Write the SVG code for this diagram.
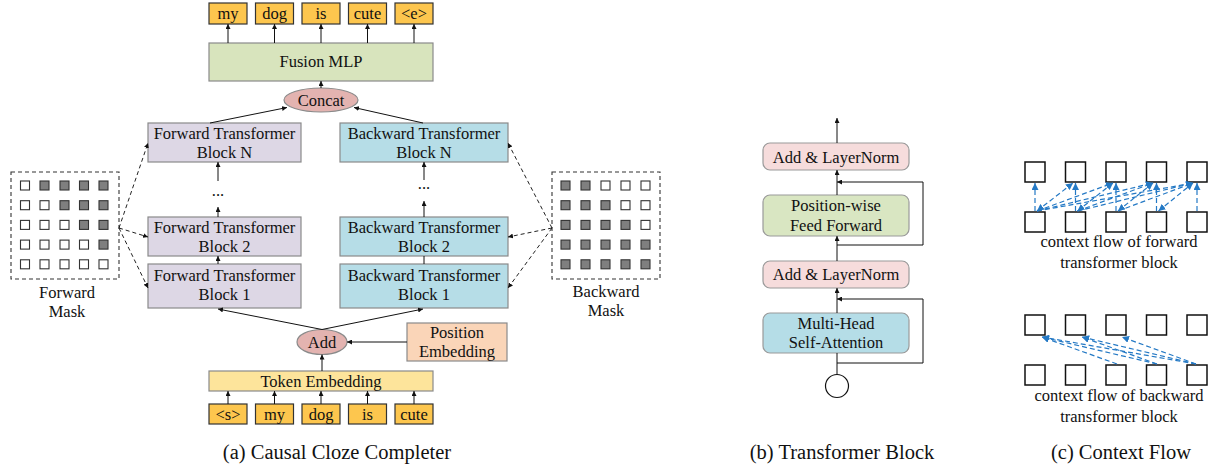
<svg xmlns="http://www.w3.org/2000/svg" width="1218" height="470" viewBox="0 0 1218 470">
<defs>
<style>
.t{font-family:"Liberation Serif","Times New Roman",serif;font-size:16.5px;fill:#111;text-anchor:middle}
.cap{font-family:"Liberation Serif","Times New Roman",serif;font-size:20.5px;fill:#111;text-anchor:middle}
.tok{fill:#fdc64e;stroke:#333;stroke-width:1.2}
.box{stroke:#8a8a8a;stroke-width:1.2}
.fus{fill:#d8e4bd}
.ell{fill:#e3b3b0}
.fwd{fill:#ddd7e5}
.bwd{fill:#b6dde7}
.pos{fill:#fad5b8}
.temb{fill:#fde49b}
.ln{stroke:#111;stroke-width:1;fill:none}
.dl{stroke:#222;stroke-width:1;fill:none;stroke-dasharray:4,3}
.mbox{fill:none;stroke:#333;stroke-width:1.1;stroke-dasharray:4,3}
.w{fill:#fff;stroke:#333;stroke-width:1.1}
.g{fill:#7f7f7f;stroke:#333;stroke-width:1.1}
.rb{stroke:#9a9a9a;stroke-width:1.2}
.ln1{fill:#f6dcdc}
.ff{fill:#d9e6c2}
.mha{fill:#b5dde7}
.sq{fill:#fff;stroke:#111;stroke-width:1.5}
.bl{stroke:#2479c5;stroke-width:1.2;fill:none;stroke-dasharray:5,3}
</style>
<marker id="a" viewBox="0 0 6 6" refX="6" refY="3" markerWidth="5" markerHeight="5" orient="auto" markerUnits="userSpaceOnUse"><path d="M0,0 L6,3 L0,6 z" fill="#111"/></marker>
<marker id="ab" viewBox="0 0 8 8" refX="8" refY="4" markerWidth="7" markerHeight="7" orient="auto" markerUnits="userSpaceOnUse"><path d="M0,0 L8,4 L0,8 z" fill="#2479c5"/></marker>
<marker id="abs" viewBox="0 0 8 8" refX="0" refY="4" markerWidth="7" markerHeight="7" orient="auto" markerUnits="userSpaceOnUse"><path d="M8,0 L0,4 L8,8 z" fill="#2479c5"/></marker>
</defs>
<rect width="1218" height="470" fill="#fff"/>

<!-- (a) output tokens -->
<g id="out-tokens">
<rect class="tok" x="209" y="3" width="38" height="21"/><text class="t" x="228" y="19">my</text>
<rect class="tok" x="255.5" y="3" width="38" height="21"/><text class="t" x="274.5" y="19">dog</text>
<rect class="tok" x="302" y="3" width="38" height="21"/><text class="t" x="321" y="19">is</text>
<rect class="tok" x="348.5" y="3" width="38" height="21"/><text class="t" x="367.5" y="19">cute</text>
<rect class="tok" x="395" y="3" width="38" height="21"/><text class="t" x="414" y="19">&lt;e&gt;</text>
</g>
<g id="fusion"><rect class="box fus" x="209" y="43" width="224" height="38"/><text class="t" x="321" y="67">Fusion MLP</text></g>
<g id="concat"><ellipse class="box ell" cx="321" cy="100" rx="37" ry="12"/><text class="t" x="321" y="106">Concat</text></g>

<g id="fwdN"><rect class="box fwd" x="148" y="123" width="153" height="39"/><text class="t" x="224.5" y="139">Forward Transformer</text><text class="t" x="224.5" y="158">Block N</text></g>
<g id="fwd2"><rect class="box fwd" x="148" y="217" width="153" height="39"/><text class="t" x="224.5" y="233">Forward Transformer</text><text class="t" x="224.5" y="252">Block 2</text></g>
<g id="fwd1"><rect class="box fwd" x="148" y="264" width="153" height="44"/><text class="t" x="224.5" y="281">Forward Transformer</text><text class="t" x="224.5" y="300">Block 1</text></g>
<g id="bwdN"><rect class="box bwd" x="340" y="123" width="168" height="39"/><text class="t" x="424" y="139">Backward Transformer</text><text class="t" x="424" y="158">Block N</text></g>
<g id="bwd2"><rect class="box bwd" x="340" y="217" width="168" height="39"/><text class="t" x="424" y="233">Backward Transformer</text><text class="t" x="424" y="252">Block 2</text></g>
<g id="bwd1"><rect class="box bwd" x="340" y="264" width="168" height="44"/><text class="t" x="424" y="281">Backward Transformer</text><text class="t" x="424" y="300">Block 1</text></g>
<g id="dots"><text class="t" x="218" y="196">...</text><text class="t" x="424" y="189">...</text></g>

<g id="add"><ellipse class="box ell" cx="322" cy="342" rx="25" ry="12.5"/><text class="t" x="322" y="348">Add</text></g>
<g id="posemb"><rect class="box pos" x="407" y="323" width="100" height="38"/><text class="t" x="457" y="338">Position</text><text class="t" x="457" y="357">Embedding</text></g>
<g id="tokemb"><rect class="box temb" x="209" y="371" width="224" height="20"/><text class="t" x="321" y="387">Token Embedding</text></g>
<g id="in-tokens">
<rect class="tok" x="209" y="404" width="38" height="20"/><text class="t" x="228" y="420">&lt;s&gt;</text>
<rect class="tok" x="255.5" y="404" width="38" height="20"/><text class="t" x="274.5" y="420">my</text>
<rect class="tok" x="302" y="404" width="38" height="20"/><text class="t" x="321" y="420">dog</text>
<rect class="tok" x="348.5" y="404" width="38" height="20"/><text class="t" x="367.5" y="420">is</text>
<rect class="tok" x="395" y="404" width="38" height="20"/><text class="t" x="414" y="420">cute</text>
</g>

<g id="fmask">
<rect class="mbox" x="11" y="172" width="108" height="107"/>
<rect class="w" x="20.5" y="181" width="9" height="9"/><rect class="g" x="40" y="181" width="9" height="9"/><rect class="g" x="60" y="181" width="9" height="9"/><rect class="g" x="79.5" y="181" width="9" height="9"/><rect class="g" x="99" y="181" width="9" height="9"/>
<rect class="w" x="20.5" y="200.7" width="9" height="9"/><rect class="w" x="40" y="200.7" width="9" height="9"/><rect class="g" x="60" y="200.7" width="9" height="9"/><rect class="g" x="79.5" y="200.7" width="9" height="9"/><rect class="g" x="99" y="200.7" width="9" height="9"/>
<rect class="w" x="20.5" y="220.4" width="9" height="9"/><rect class="w" x="40" y="220.4" width="9" height="9"/><rect class="w" x="60" y="220.4" width="9" height="9"/><rect class="g" x="79.5" y="220.4" width="9" height="9"/><rect class="g" x="99" y="220.4" width="9" height="9"/>
<rect class="w" x="20.5" y="240.1" width="9" height="9"/><rect class="w" x="40" y="240.1" width="9" height="9"/><rect class="w" x="60" y="240.1" width="9" height="9"/><rect class="w" x="79.5" y="240.1" width="9" height="9"/><rect class="g" x="99" y="240.1" width="9" height="9"/>
<rect class="w" x="20.5" y="259.8" width="9" height="9"/><rect class="w" x="40" y="259.8" width="9" height="9"/><rect class="w" x="60" y="259.8" width="9" height="9"/><rect class="w" x="79.5" y="259.8" width="9" height="9"/><rect class="w" x="99" y="259.8" width="9" height="9"/>
<text class="t" x="67" y="298">Forward</text><text class="t" x="67" y="317">Mask</text>
</g>
<g id="bmask">
<rect class="mbox" x="552" y="172" width="108" height="107"/>
<rect class="g" x="561" y="181" width="9" height="9"/><rect class="g" x="581" y="181" width="9" height="9"/><rect class="w" x="601" y="181" width="9" height="9"/><rect class="w" x="621" y="181" width="9" height="9"/><rect class="w" x="641" y="181" width="9" height="9"/>
<rect class="g" x="561" y="200.7" width="9" height="9"/><rect class="g" x="581" y="200.7" width="9" height="9"/><rect class="g" x="601" y="200.7" width="9" height="9"/><rect class="w" x="621" y="200.7" width="9" height="9"/><rect class="w" x="641" y="200.7" width="9" height="9"/>
<rect class="g" x="561" y="220.4" width="9" height="9"/><rect class="g" x="581" y="220.4" width="9" height="9"/><rect class="g" x="601" y="220.4" width="9" height="9"/><rect class="g" x="621" y="220.4" width="9" height="9"/><rect class="w" x="641" y="220.4" width="9" height="9"/>
<rect class="g" x="561" y="240.1" width="9" height="9"/><rect class="g" x="581" y="240.1" width="9" height="9"/><rect class="g" x="601" y="240.1" width="9" height="9"/><rect class="g" x="621" y="240.1" width="9" height="9"/><rect class="g" x="641" y="240.1" width="9" height="9"/>
<rect class="g" x="561" y="259.8" width="9" height="9"/><rect class="g" x="581" y="259.8" width="9" height="9"/><rect class="g" x="601" y="259.8" width="9" height="9"/><rect class="g" x="621" y="259.8" width="9" height="9"/><rect class="g" x="641" y="259.8" width="9" height="9"/>
<text class="t" x="606" y="297">Backward</text><text class="t" x="606" y="316">Mask</text>
</g>

<g id="connectors-a">
<line class="ln" x1="228" y1="43" x2="228" y2="24" marker-end="url(#a)"/>
<line class="ln" x1="274.5" y1="43" x2="274.5" y2="24" marker-end="url(#a)"/>
<line class="ln" x1="321" y1="43" x2="321" y2="24" marker-end="url(#a)"/>
<line class="ln" x1="367.5" y1="43" x2="367.5" y2="24" marker-end="url(#a)"/>
<line class="ln" x1="414" y1="43" x2="414" y2="24" marker-end="url(#a)"/>
<line class="ln" x1="321" y1="88" x2="321" y2="81" marker-end="url(#a)"/>
<line class="ln" x1="210" y1="123" x2="287" y2="107.5" marker-end="url(#a)"/>
<line class="ln" x1="423" y1="123" x2="354" y2="107.5" marker-end="url(#a)"/>
<line class="ln" x1="218" y1="181" x2="218" y2="162" marker-end="url(#a)"/>
<line class="ln" x1="218" y1="217" x2="218" y2="207" marker-end="url(#a)"/>
<line class="ln" x1="218" y1="264" x2="218" y2="256" marker-end="url(#a)"/>
<line class="ln" x1="424" y1="180" x2="424" y2="162" marker-end="url(#a)"/>
<line class="ln" x1="424" y1="217" x2="424" y2="201" marker-end="url(#a)"/>
<line class="ln" x1="424" y1="264" x2="424" y2="256"/>
<line class="ln" x1="322" y1="329.5" x2="218" y2="309" marker-end="url(#a)"/>
<line class="ln" x1="322" y1="329.5" x2="423" y2="309" marker-end="url(#a)"/>
<line class="ln" x1="407" y1="342" x2="347" y2="342" marker-end="url(#a)"/>
<line class="ln" x1="322" y1="371" x2="322" y2="354.5" marker-end="url(#a)"/>
<line class="ln" x1="228" y1="404" x2="228" y2="391" marker-end="url(#a)"/>
<line class="ln" x1="274.5" y1="404" x2="274.5" y2="391" marker-end="url(#a)"/>
<line class="ln" x1="321" y1="404" x2="321" y2="391" marker-end="url(#a)"/>
<line class="ln" x1="367.5" y1="404" x2="367.5" y2="391" marker-end="url(#a)"/>
<line class="ln" x1="414" y1="404" x2="414" y2="391" marker-end="url(#a)"/>
<line class="dl" x1="119" y1="228" x2="148" y2="143" marker-end="url(#a)"/>
<line class="dl" x1="119" y1="228" x2="148" y2="237" marker-end="url(#a)"/>
<line class="dl" x1="119" y1="228" x2="148" y2="288" marker-end="url(#a)"/>
<line class="dl" x1="552" y1="228" x2="508" y2="143" marker-end="url(#a)"/>
<line class="dl" x1="552" y1="228" x2="508" y2="237" marker-end="url(#a)"/>
<line class="dl" x1="552" y1="228" x2="508" y2="288" marker-end="url(#a)"/>
</g>

<!-- (b) Transformer block -->
<g id="ln-top"><rect class="rb ln1" x="763" y="143" width="146" height="27" rx="7"/><text class="t" x="836" y="163">Add &amp; LayerNorm</text></g>
<g id="ffn"><rect class="rb ff" x="763" y="195" width="146" height="41" rx="7"/><text class="t" x="836" y="211">Position-wise</text><text class="t" x="836" y="231">Feed Forward</text></g>
<g id="ln-bot"><rect class="rb ln1" x="763" y="261" width="146" height="27" rx="7"/><text class="t" x="836" y="280">Add &amp; LayerNorm</text></g>
<g id="mha"><rect class="rb mha" x="763" y="313" width="146" height="40" rx="7"/><text class="t" x="836" y="329">Multi-Head</text><text class="t" x="836" y="348">Self-Attention</text></g>
<g id="input-circle"><circle cx="837" cy="386" r="11.5" fill="#fff" stroke="#111" stroke-width="1.2"/></g>
<g id="connectors-b">
<line class="ln" x1="837" y1="374.5" x2="837" y2="353"/>
<polyline class="ln" points="837,363 923,363 923,299 837,299" marker-end="url(#a)"/>
<line class="ln" x1="837" y1="313" x2="837" y2="288" marker-end="url(#a)"/>
<line class="ln" x1="837" y1="261" x2="837" y2="236" marker-end="url(#a)"/>
<polyline class="ln" points="837,245 923,245 923,182 837,182" marker-end="url(#a)"/>
<line class="ln" x1="837" y1="195" x2="837" y2="170" marker-end="url(#a)"/>
<line class="ln" x1="837" y1="143" x2="837" y2="118" marker-end="url(#a)"/>
</g>

<!-- (c) Context flow -->
<g id="cf-forward">
<rect class="sq" x="1025" y="162" width="20" height="20"/><rect class="sq" x="1065.5" y="162" width="20" height="20"/><rect class="sq" x="1106" y="162" width="20" height="20"/><rect class="sq" x="1146.5" y="162" width="20" height="20"/><rect class="sq" x="1187" y="162" width="20" height="20"/>
<rect class="sq" x="1025" y="212" width="20" height="20"/><rect class="sq" x="1065.5" y="212" width="20" height="20"/><rect class="sq" x="1106" y="212" width="20" height="20"/><rect class="sq" x="1146.5" y="212" width="20" height="20"/><rect class="sq" x="1187" y="212" width="20" height="20"/>
<text class="t" x="1119" y="247">context flow of forward</text>
<text class="t" x="1119" y="268">transformer block</text>
</g>
<g id="cf-forward-arrows">
<line class="bl" x1="1035" y1="211" x2="1035" y2="183" marker-end="url(#ab)"/>
<line class="bl" x1="1075.5" y1="211" x2="1075.5" y2="183" marker-end="url(#ab)"/>
<line class="bl" x1="1116" y1="211" x2="1116" y2="183" marker-end="url(#ab)"/>
<line class="bl" x1="1156.5" y1="211" x2="1156.5" y2="183" marker-end="url(#ab)"/>
<line class="bl" x1="1197" y1="211" x2="1197" y2="183" marker-end="url(#ab)"/>
<line class="bl" x1="1037" y1="211" x2="1073" y2="183" marker-start="url(#abs)" marker-end="url(#ab)"/>
<line class="bl" x1="1037" y1="211" x2="1113" y2="183" marker-end="url(#ab)"/>
<line class="bl" x1="1037" y1="211" x2="1153" y2="183" marker-end="url(#ab)"/>
<line class="bl" x1="1037" y1="211" x2="1193" y2="183" marker-end="url(#ab)"/>
<line class="bl" x1="1077.5" y1="211" x2="1113" y2="183" marker-start="url(#abs)" marker-end="url(#ab)"/>
<line class="bl" x1="1077.5" y1="211" x2="1153" y2="183" marker-end="url(#ab)"/>
<line class="bl" x1="1077.5" y1="211" x2="1193" y2="183" marker-end="url(#ab)"/>
<line class="bl" x1="1118" y1="211" x2="1153" y2="183" marker-start="url(#abs)" marker-end="url(#ab)"/>
<line class="bl" x1="1118" y1="211" x2="1193" y2="183" marker-end="url(#ab)"/>
<line class="bl" x1="1158.5" y1="211" x2="1193" y2="183" marker-start="url(#abs)" marker-end="url(#ab)"/>
</g>
<g id="cf-backward">
<rect class="sq" x="1025" y="315" width="20" height="20"/><rect class="sq" x="1065.5" y="315" width="20" height="20"/><rect class="sq" x="1106" y="315" width="20" height="20"/><rect class="sq" x="1146.5" y="315" width="20" height="20"/><rect class="sq" x="1187" y="315" width="20" height="20"/>
<rect class="sq" x="1025" y="365" width="20" height="20"/><rect class="sq" x="1065.5" y="365" width="20" height="20"/><rect class="sq" x="1106" y="365" width="20" height="20"/><rect class="sq" x="1146.5" y="365" width="20" height="20"/><rect class="sq" x="1187" y="365" width="20" height="20"/>
<text class="t" x="1119" y="401">context flow of backward</text>
<text class="t" x="1119" y="422">transformer block</text>
</g>
<g id="cf-backward-arrows">
<line class="bl" x1="1117" y1="364" x2="1042" y2="337" marker-end="url(#ab)"/>
<line class="bl" x1="1157" y1="364" x2="1042" y2="337" marker-end="url(#ab)"/>
<line class="bl" x1="1196" y1="364" x2="1042" y2="337" marker-end="url(#ab)"/>
<line class="bl" x1="1157" y1="364" x2="1082" y2="337" marker-end="url(#ab)"/>
<line class="bl" x1="1196" y1="364" x2="1082" y2="337" marker-end="url(#ab)"/>
<line class="bl" x1="1196" y1="364" x2="1122" y2="337" marker-end="url(#ab)"/>
</g>

<g id="captions">
<text class="cap" x="337" y="459">(a) Causal Cloze Completer</text>
<text class="cap" x="842" y="459">(b) Transformer Block</text>
<text class="cap" x="1121" y="459">(c) Context Flow</text>
</g>
</svg>
